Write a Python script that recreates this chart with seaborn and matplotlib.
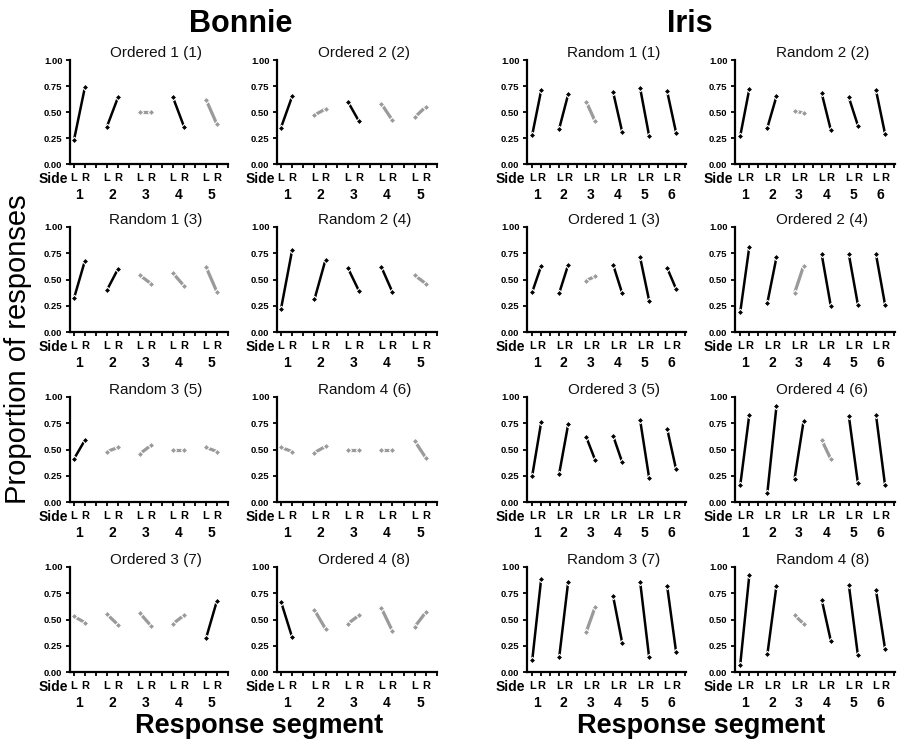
import numpy as np
import pandas as pd
import matplotlib
matplotlib.use("Agg")
import matplotlib.pyplot as plt
import seaborn as sns

# ---------------- data ----------------
bonnie_titles = ["Ordered 1 (1)", "Ordered 2 (2)", "Random 1 (3)", "Random 2 (4)",
                 "Random 3 (5)", "Random 4 (6)", "Ordered 3 (7)", "Ordered 4 (8)"]
bonnie_left = [
    [0.23, 0.36, 0.50, 0.64, 0.62],
    [0.35, 0.47, 0.60, 0.58, 0.45],
    [0.32, 0.40, 0.54, 0.56, 0.62],
    [0.22, 0.31, 0.61, 0.62, 0.54],
    [0.41, 0.48, 0.46, 0.50, 0.52],
    [0.52, 0.47, 0.50, 0.50, 0.58],
    [0.53, 0.55, 0.56, 0.46, 0.32],
    [0.67, 0.59, 0.46, 0.61, 0.43],
]
bonnie_right = [
    [0.74, 0.64, 0.50, 0.36, 0.38],
    [0.65, 0.53, 0.41, 0.42, 0.55],
    [0.68, 0.60, 0.46, 0.44, 0.38],
    [0.78, 0.69, 0.39, 0.38, 0.46],
    [0.59, 0.52, 0.54, 0.50, 0.48],
    [0.48, 0.53, 0.50, 0.50, 0.42],
    [0.47, 0.45, 0.44, 0.54, 0.68],
    [0.33, 0.41, 0.54, 0.39, 0.57],
]
bonnie_sig = [
    [1, 1, 0, 1, 0],
    [1, 0, 1, 0, 0],
    [1, 1, 0, 0, 0],
    [1, 1, 1, 1, 0],
    [1, 0, 0, 0, 0],
    [0, 0, 0, 0, 0],
    [0, 0, 0, 0, 1],
    [1, 0, 0, 0, 0],
]

iris_titles = ["Random 1 (1)", "Random 2 (2)", "Ordered 1 (3)", "Ordered 2 (4)",
               "Ordered 3 (5)", "Ordered 4 (6)", "Random 3 (7)", "Random 4 (8)"]
iris_left = [
    [0.28, 0.34, 0.60, 0.69, 0.73, 0.70],
    [0.27, 0.35, 0.51, 0.68, 0.64, 0.71],
    [0.38, 0.37, 0.49, 0.64, 0.71, 0.61],
    [0.19, 0.28, 0.37, 0.74, 0.74, 0.74],
    [0.25, 0.27, 0.62, 0.63, 0.78, 0.70],
    [0.16, 0.09, 0.22, 0.59, 0.82, 0.83],
    [0.11, 0.14, 0.38, 0.72, 0.86, 0.82],
    [0.07, 0.17, 0.54, 0.69, 0.83, 0.78],
]
iris_right = [
    [0.71, 0.67, 0.41, 0.31, 0.27, 0.30],
    [0.72, 0.65, 0.49, 0.33, 0.37, 0.29],
    [0.63, 0.64, 0.53, 0.37, 0.30, 0.41],
    [0.81, 0.71, 0.63, 0.25, 0.26, 0.26],
    [0.76, 0.74, 0.40, 0.38, 0.23, 0.31],
    [0.83, 0.91, 0.77, 0.41, 0.18, 0.16],
    [0.89, 0.86, 0.62, 0.28, 0.14, 0.19],
    [0.92, 0.82, 0.46, 0.30, 0.16, 0.22],
]
iris_sig = [
    [1, 1, 0, 1, 1, 1],
    [1, 1, 0, 1, 1, 1],
    [1, 1, 0, 1, 1, 1],
    [1, 1, 0, 1, 1, 1],
    [1, 1, 1, 1, 1, 1],
    [1, 1, 1, 0, 1, 1],
    [1, 1, 0, 1, 1, 1],
    [1, 1, 0, 1, 1, 1],
]

y_ticks = [0.0, 0.25, 0.5, 0.75, 1.0]
subject_names = ["Bonnie", "Iris"]

# ---------------- style ----------------
sns.set_style("ticks")
plt.rcParams["font.family"] = ["Liberation Sans", "DejaVu Sans"]
plt.rcParams["axes.linewidth"] = 1.5
for key in ["text.color", "axes.labelcolor", "xtick.color", "ytick.color", "axes.edgecolor"]:
    plt.rcParams[key] = "black"

W, H = 900, 741
fig = plt.figure(figsize=(W / 100, H / 100), dpi=100)

col_px = {"Bonnie": [(70, 228), (277, 437)], "Iris": [(527, 686), (735, 895)]}
row_px = [(60, 164), (227, 332), (397, 502), (567, 672)]
xlims = {"Bonnie": (0.64, 15.0), "Iris": (0.42, 18.1)}
palette = {"sig": "#000000", "ns": "#9a9a9a"}
line_sizes = {"sig": 1.8, "ns": 2.3}


def make_panel(ax, title, left, right, sig, xlim):
    n = len(left)
    rows = []
    for k in range(n):
        s = "sig" if sig[k] else "ns"
        rows.append({"x": 3 * k + 1, "y": left[k], "seg": k, "s": s})
        rows.append({"x": 3 * k + 2, "y": right[k], "seg": k, "s": s})
    df = pd.DataFrame(rows)
    sns.lineplot(data=df, x="x", y="y", units="seg", estimator=None, hue="s",
                 size="s", sizes=line_sizes,
                 palette=palette, marker="D", markersize=3.3, markeredgewidth=0.8,
                 legend=False, ax=ax, sort=False, clip_on=False)
    ax.set_xlim(*xlim)
    ax.set_ylim(0, 1)
    ticks = list(range(1, 3 * n + 1))
    ax.set_xticks(ticks)
    ax.set_xticklabels(["L" if t % 3 == 1 else ("R" if t % 3 == 2 else "") for t in ticks],
                       fontsize=8, fontweight="bold")
    ax.set_yticks(y_ticks)
    ax.set_yticklabels(["%.2f" % v for v in y_ticks], fontsize=6.8, fontweight="bold")
    ax.tick_params(axis="both", length=3, width=1.3, direction="out", pad=2.5)
    ax.tick_params(axis="x", pad=3.2)
    ax.set_xlabel("")
    ax.set_ylabel("")
    sns.despine(ax=ax)
    ax.spines["left"].set_linewidth(1.6)
    ax.spines["bottom"].set_linewidth(1.6)
    ax.set_title(title, fontsize=11, x=0.545, pad=1.5, color="#111111")
    for k in range(n):
        ax.annotate(str(k + 1), xy=(3 * k + 1.5, 0), xycoords=("data", "axes fraction"),
                    xytext=(0, -22.5), textcoords="offset points",
                    ha="center", va="center", fontsize=10, fontweight="bold")
    ax.annotate("Side", xy=(0, 0), xycoords="axes fraction", xytext=(-1.5, -10.8),
                textcoords="offset points", ha="right", va="center",
                fontsize=10, fontweight="bold")


data = {
    "Bonnie": (bonnie_titles, bonnie_left, bonnie_right, bonnie_sig),
    "Iris": (iris_titles, iris_left, iris_right, iris_sig),
}

for name in subject_names:
    titles, lefts, rights, sigs = data[name]
    for i in range(8):
        r, c = divmod(i, 2)
        x0, x1 = col_px[name][c]
        y0, y1 = row_px[r]
        ax = fig.add_axes([x0 / W, 1 - y1 / H, (x1 - x0) / W, (y1 - y0) / H])
        make_panel(ax, titles[i], lefts[i], rights[i], sigs[i], xlims[name])

fig.text(241 / W, 1 - 24 / H, "Bonnie", ha="center", va="center", fontsize=22, fontweight="bold")
fig.text(690 / W, 1 - 24 / H, "Iris", ha="center", va="center", fontsize=22, fontweight="bold")
fig.text(259 / W, 1 - 726 / H, "Response segment", ha="center", va="center", fontsize=19.5, fontweight="bold")
fig.text(701 / W, 1 - 726 / H, "Response segment", ha="center", va="center", fontsize=19.5, fontweight="bold")
fig.text(18 / W, 1 - 349 / H, "Proportion of responses", ha="center", va="center",
         rotation=90, fontsize=21)

fig.savefig("out.png", dpi=100)
